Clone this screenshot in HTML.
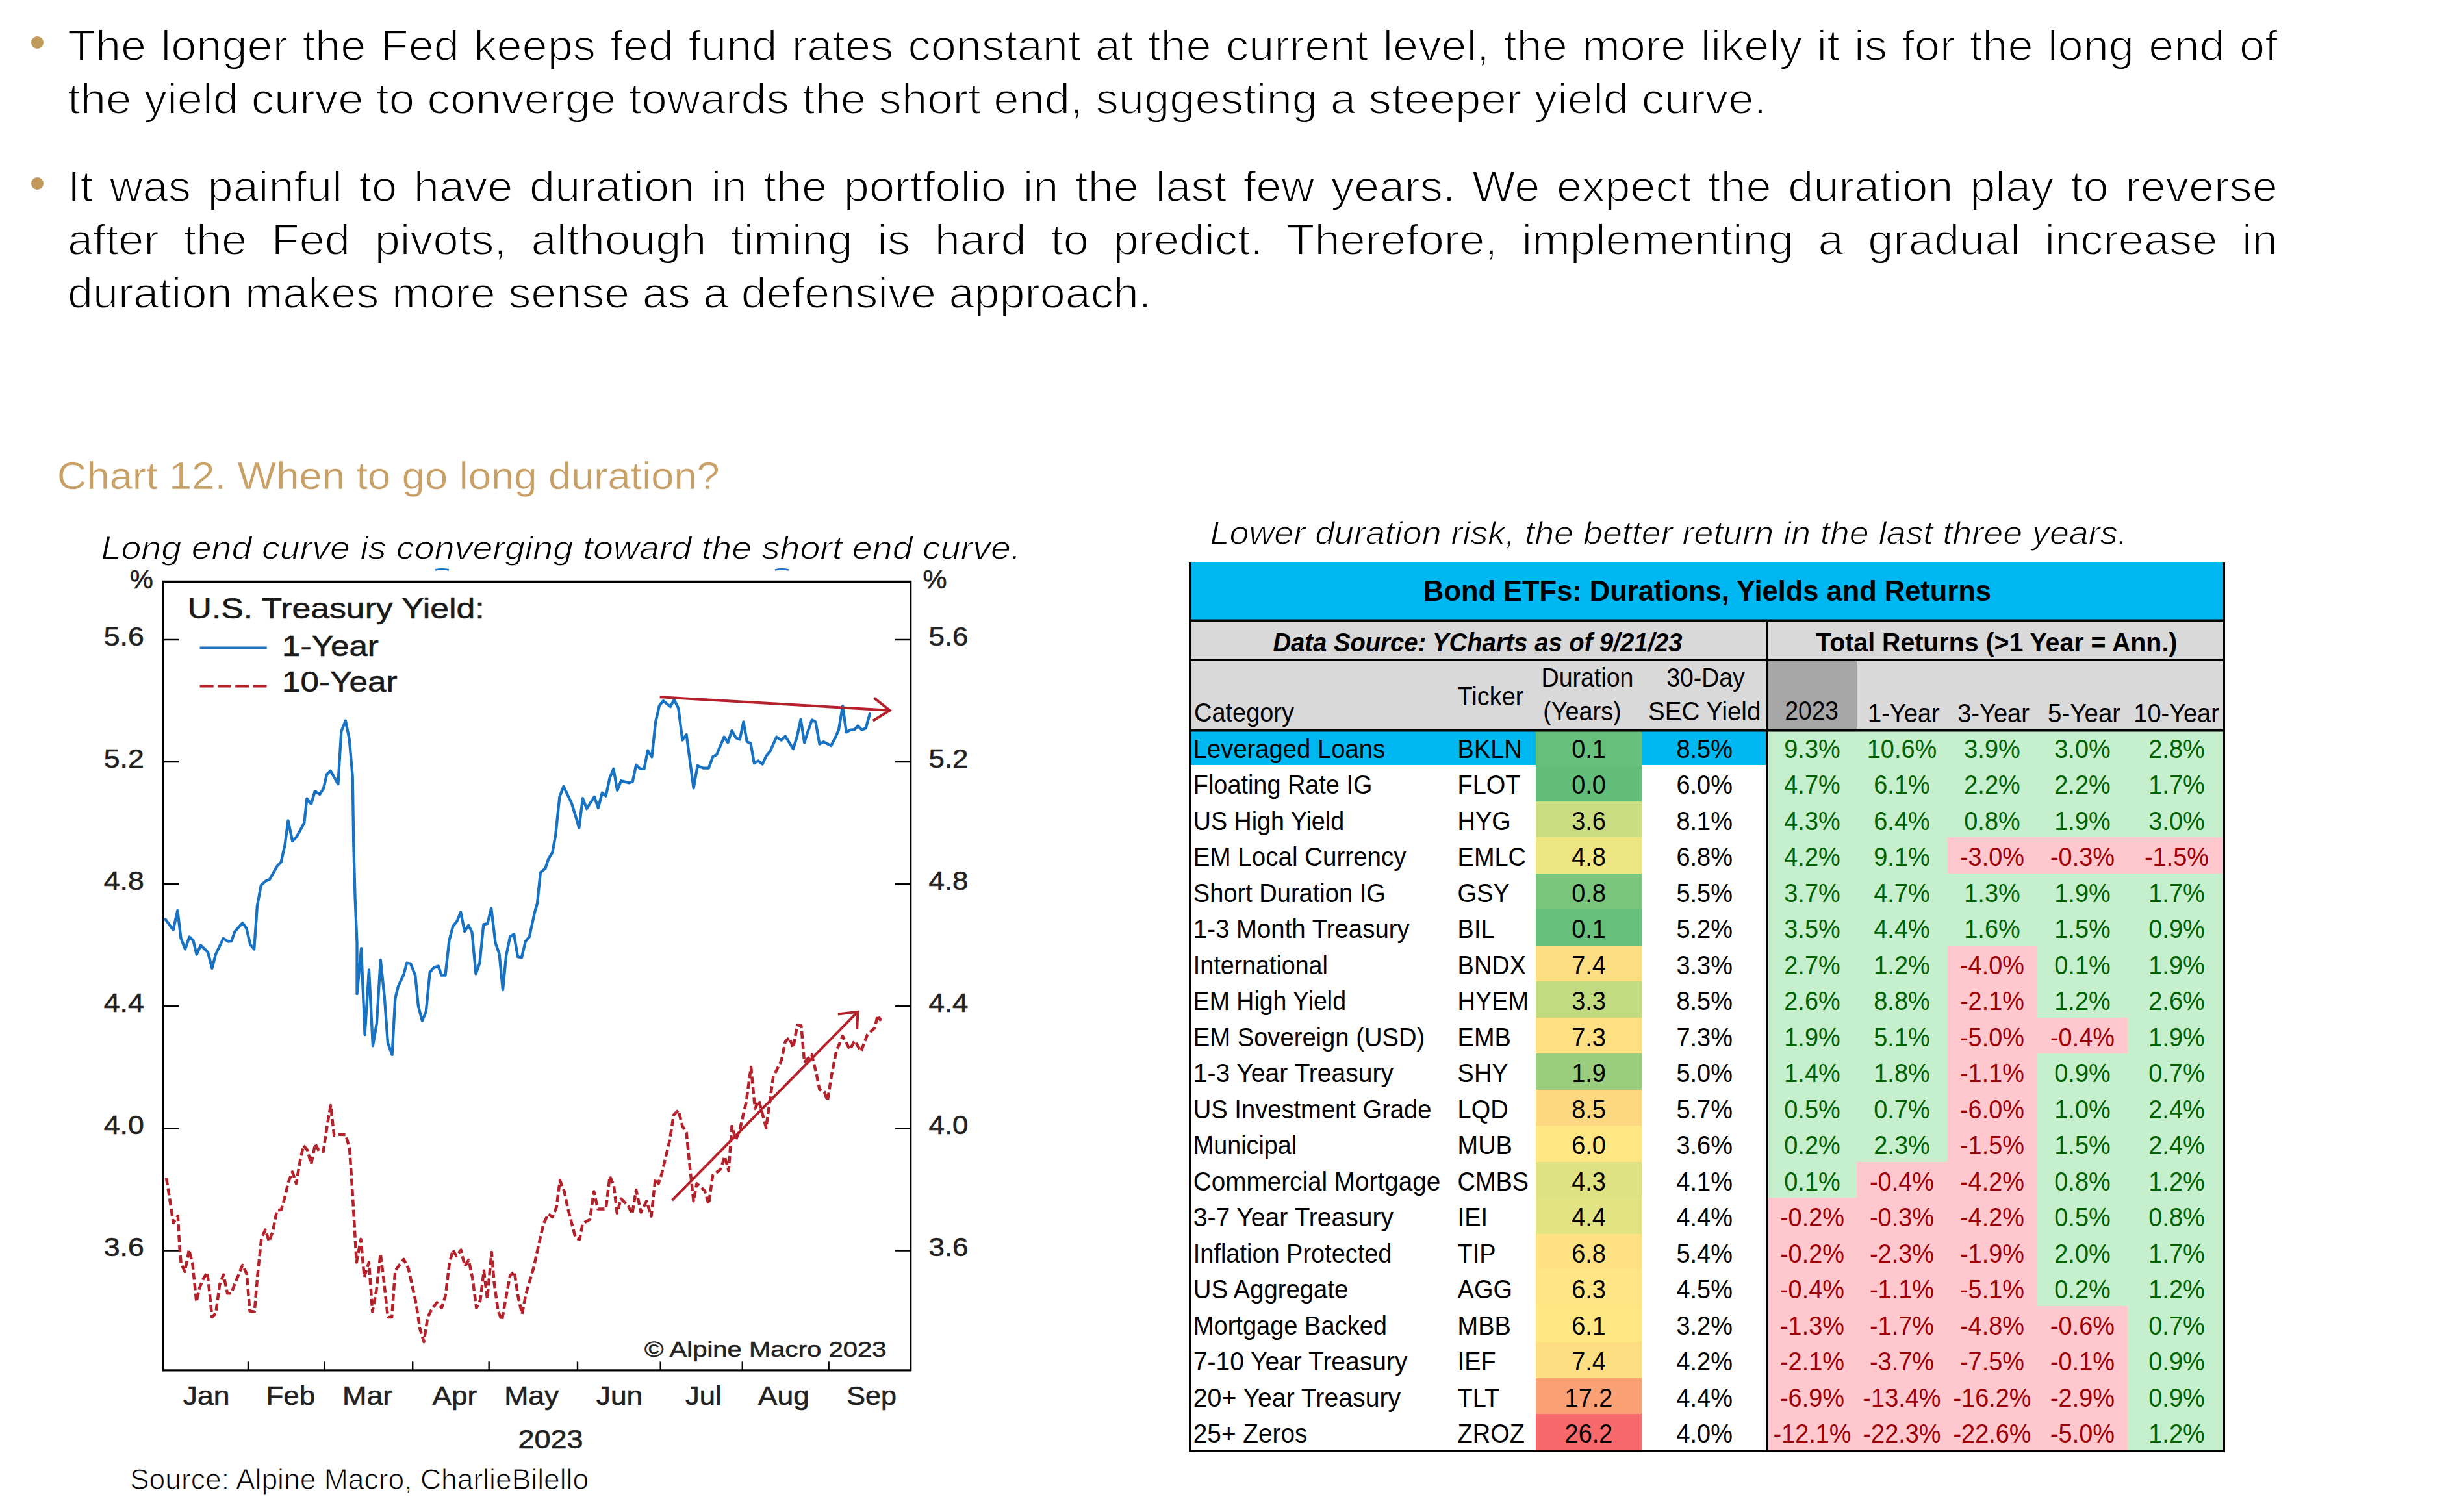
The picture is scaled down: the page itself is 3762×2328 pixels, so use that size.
<!DOCTYPE html>
<html lang="en"><head><meta charset="utf-8"><title>Chart 12. When to go long duration?</title><style>
html,body{margin:0;padding:0;background:#fff;}
body{width:3762px;height:2328px;position:relative;overflow:hidden;font-family:"Liberation Sans",sans-serif;color:#000;}
.pl{position:absolute;left:104.2px;width:3181.0px;font-size:67px;line-height:67px;height:67px;white-space:nowrap;transform:scaleX(1.0694);transform-origin:0 0;text-align:left;-webkit-text-stroke:1.8px #fff;}
.pl.j{text-align:justify;text-align-last:justify;}
.bul{position:absolute;width:19px;height:19px;border-radius:50%;background:#C19A5B;}
svg{position:absolute;left:0;top:0;}
svg text{font-family:"Liberation Sans",sans-serif;}
</style></head><body>
<div class="bul" style="left:47.5px;top:56px"></div>
<div class="bul" style="left:47.5px;top:273px"></div>
<div class="pl j" style="top:36.0px;width:3240.7px;transform:scaleX(1.0497)">The longer the Fed keeps fed fund rates constant at the current level, the more likely it is for the long end of</div>
<div class="pl" style="top:118.0px;width:3226.6px;transform:scaleX(1.0543)">the yield curve to converge towards the short end, suggesting a steeper yield curve.</div>
<div class="pl j" style="top:252.6px;width:3240.7px;transform:scaleX(1.0497)">It was painful to have duration in the portfolio in the last few years. We expect the duration play to reverse</div>
<div class="pl j" style="top:334.7px;width:3240.7px;transform:scaleX(1.0497)">after the Fed pivots, although timing is hard to predict. Therefore, implementing a gradual increase in</div>
<div class="pl" style="top:416.8px;width:3250.3px;transform:scaleX(1.0466)">duration makes more sense as a defensive approach.</div>
<svg width="3762" height="2328" viewBox="0 0 3762 2328">
<text x="87.8" y="753.3" font-size="60" fill="#C8A065" textLength="1020.0" lengthAdjust="spacingAndGlyphs" stroke="#fff" stroke-width="0.5">Chart 12. When to go long duration?</text>
<text x="155.5" y="860.6" font-size="50" fill="#000" font-style="italic" textLength="1416.0" lengthAdjust="spacingAndGlyphs" stroke="#fff" stroke-width="1.1">Long end curve is converging toward the short end curve.</text>
<text x="1862.6" y="837.6" font-size="50" fill="#000" font-style="italic" textLength="1412.0" lengthAdjust="spacingAndGlyphs" stroke="#fff" stroke-width="1.1">Lower duration risk, the better return in the last three years.</text>
<text x="199.9" y="2293.4" font-size="44" fill="#000" textLength="706.3" lengthAdjust="spacingAndGlyphs" stroke="#fff" stroke-width="0.9">Source: Alpine Macro, CharlieBilello</text>
<rect x="251.4" y="895.4" width="1150.3" height="1214.5" fill="none" stroke="#000" stroke-width="3.2"/>
<path d="M251.4 985.0h24 M1401.7 985.0h-24" stroke="#000" stroke-width="2.4" fill="none"/>
<text x="159.8" y="993.6" font-size="40.5" fill="#222" textLength="62.0" lengthAdjust="spacingAndGlyphs" stroke="#222" stroke-width="0.6">5.6</text>
<text x="1429.5" y="993.6" font-size="40.5" fill="#222" textLength="61.0" lengthAdjust="spacingAndGlyphs" stroke="#222" stroke-width="0.6">5.6</text>
<path d="M251.4 1173.1h24 M1401.7 1173.1h-24" stroke="#000" stroke-width="2.4" fill="none"/>
<text x="159.8" y="1181.7" font-size="40.5" fill="#222" textLength="62.0" lengthAdjust="spacingAndGlyphs" stroke="#222" stroke-width="0.6">5.2</text>
<text x="1429.5" y="1181.7" font-size="40.5" fill="#222" textLength="61.0" lengthAdjust="spacingAndGlyphs" stroke="#222" stroke-width="0.6">5.2</text>
<path d="M251.4 1361.2h24 M1401.7 1361.2h-24" stroke="#000" stroke-width="2.4" fill="none"/>
<text x="159.8" y="1369.8" font-size="40.5" fill="#222" textLength="62.0" lengthAdjust="spacingAndGlyphs" stroke="#222" stroke-width="0.6">4.8</text>
<text x="1429.5" y="1369.8" font-size="40.5" fill="#222" textLength="61.0" lengthAdjust="spacingAndGlyphs" stroke="#222" stroke-width="0.6">4.8</text>
<path d="M251.4 1549.3h24 M1401.7 1549.3h-24" stroke="#000" stroke-width="2.4" fill="none"/>
<text x="159.8" y="1557.9" font-size="40.5" fill="#222" textLength="62.0" lengthAdjust="spacingAndGlyphs" stroke="#222" stroke-width="0.6">4.4</text>
<text x="1429.5" y="1557.9" font-size="40.5" fill="#222" textLength="61.0" lengthAdjust="spacingAndGlyphs" stroke="#222" stroke-width="0.6">4.4</text>
<path d="M251.4 1737.4h24 M1401.7 1737.4h-24" stroke="#000" stroke-width="2.4" fill="none"/>
<text x="159.8" y="1746.0" font-size="40.5" fill="#222" textLength="62.0" lengthAdjust="spacingAndGlyphs" stroke="#222" stroke-width="0.6">4.0</text>
<text x="1429.5" y="1746.0" font-size="40.5" fill="#222" textLength="61.0" lengthAdjust="spacingAndGlyphs" stroke="#222" stroke-width="0.6">4.0</text>
<path d="M251.4 1925.5h24 M1401.7 1925.5h-24" stroke="#000" stroke-width="2.4" fill="none"/>
<text x="159.8" y="1934.1" font-size="40.5" fill="#222" textLength="62.0" lengthAdjust="spacingAndGlyphs" stroke="#222" stroke-width="0.6">3.6</text>
<text x="1429.5" y="1934.1" font-size="40.5" fill="#222" textLength="61.0" lengthAdjust="spacingAndGlyphs" stroke="#222" stroke-width="0.6">3.6</text>
<text x="199.8" y="906.0" font-size="40" fill="#222" textLength="36.0" lengthAdjust="spacingAndGlyphs" stroke="#222" stroke-width="0.6">%</text>
<text x="1420.5" y="906.0" font-size="40" fill="#222" textLength="37.0" lengthAdjust="spacingAndGlyphs" stroke="#222" stroke-width="0.6">%</text>
<path d="M382.0 2109.9v-13.5" stroke="#000" stroke-width="2.4" fill="none"/>
<path d="M499.5 2109.9v-13.5" stroke="#000" stroke-width="2.4" fill="none"/>
<path d="M635.2 2109.9v-13.5" stroke="#000" stroke-width="2.4" fill="none"/>
<path d="M752.7 2109.9v-13.5" stroke="#000" stroke-width="2.4" fill="none"/>
<path d="M889.0 2109.9v-13.5" stroke="#000" stroke-width="2.4" fill="none"/>
<path d="M1016.7 2109.9v-13.5" stroke="#000" stroke-width="2.4" fill="none"/>
<path d="M1142.8 2109.9v-13.5" stroke="#000" stroke-width="2.4" fill="none"/>
<path d="M1275.7 2109.9v-13.5" stroke="#000" stroke-width="2.4" fill="none"/>
<text x="281.8" y="2162.8" font-size="40" fill="#222" textLength="71.6" lengthAdjust="spacingAndGlyphs" stroke="#222" stroke-width="0.6">Jan</text>
<text x="409.5" y="2162.8" font-size="40" fill="#222" textLength="75.7" lengthAdjust="spacingAndGlyphs" stroke="#222" stroke-width="0.6">Feb</text>
<text x="527.0" y="2162.8" font-size="40" fill="#222" textLength="77.3" lengthAdjust="spacingAndGlyphs" stroke="#222" stroke-width="0.6">Mar</text>
<text x="665.6" y="2162.8" font-size="40" fill="#222" textLength="68.7" lengthAdjust="spacingAndGlyphs" stroke="#222" stroke-width="0.6">Apr</text>
<text x="776.2" y="2162.8" font-size="40" fill="#222" textLength="84.2" lengthAdjust="spacingAndGlyphs" stroke="#222" stroke-width="0.6">May</text>
<text x="917.7" y="2162.8" font-size="40" fill="#222" textLength="71.6" lengthAdjust="spacingAndGlyphs" stroke="#222" stroke-width="0.6">Jun</text>
<text x="1055.1" y="2162.8" font-size="40" fill="#222" textLength="55.6" lengthAdjust="spacingAndGlyphs" stroke="#222" stroke-width="0.6">Jul</text>
<text x="1166.8" y="2162.8" font-size="40" fill="#222" textLength="79.1" lengthAdjust="spacingAndGlyphs" stroke="#222" stroke-width="0.6">Aug</text>
<text x="1303.2" y="2162.8" font-size="40" fill="#222" textLength="76.7" lengthAdjust="spacingAndGlyphs" stroke="#222" stroke-width="0.6">Sep</text>
<text x="797.4" y="2230.4" font-size="40" fill="#222" textLength="100.2" lengthAdjust="spacingAndGlyphs" stroke="#222" stroke-width="0.6">2023</text>
<text x="992.1" y="2088.9" font-size="34" fill="#222" textLength="372.4" lengthAdjust="spacingAndGlyphs" stroke="#222" stroke-width="0.6">© Alpine Macro 2023</text>
<text x="288.6" y="951.7" font-size="44" fill="#1a1a1a" textLength="457.0" lengthAdjust="spacingAndGlyphs" stroke="#1a1a1a" stroke-width="0.6">U.S. Treasury Yield:</text>
<text x="434.0" y="1010.0" font-size="44" fill="#1a1a1a" textLength="148.9" lengthAdjust="spacingAndGlyphs" stroke="#1a1a1a" stroke-width="0.6">1-Year</text>
<text x="434.0" y="1065.0" font-size="44" fill="#1a1a1a" textLength="177.5" lengthAdjust="spacingAndGlyphs" stroke="#1a1a1a" stroke-width="0.6">10-Year</text>
<path d="M307.6 997.5H410.7" stroke="#1872C3" stroke-width="4.2" fill="none"/>
<path d="M307.6 1056.5H410.7" stroke="#B5212B" stroke-width="4.2" stroke-dasharray="21 6.3" fill="none"/>
<path d="M254.7 1415.6 L266.6 1431.7 L273.3 1402.0 L278.5 1444.8 L285.1 1461.4 L291.5 1442.4 L297.5 1448.3 L302.7 1469.7 L308.9 1455.4 L320.0 1466.1 L326.4 1491.0 L331.9 1469.7 L343.7 1444.8 L350.9 1449.5 L356.3 1449.0 L361.5 1434.1 L373.4 1421.0 L379.3 1429.3 L385.3 1454.3 L391.2 1461.4 L395.9 1394.9 L401.9 1362.9 L409.0 1356.5 L414.9 1354.1 L426.8 1333.2 L432.7 1327.3 L438.7 1300.0 L443.5 1263.5 L450.1 1295.0 L456.7 1288.3 L468.3 1266.9 L472.4 1229.6 L479.0 1237.9 L484.8 1218.1 L492.2 1223.0 L498.0 1213.9 L503.0 1192.4 L508.8 1186.7 L520.4 1207.3 L525.3 1126.3 L531.9 1109.8 L537.7 1137.9 L542.7 1195.7 L544.3 1300.0 L546.6 1383.0 L549.5 1451.9 L549.5 1530.2 L556.1 1460.2 L561.6 1593.1 L568.0 1493.4 L573.9 1610.4 L579.9 1575.3 L585.8 1478.0 L591.7 1533.8 L597.0 1606.1 L603.6 1623.9 L608.3 1537.3 L613.1 1518.3 L621.4 1500.5 L626.1 1482.7 L632.1 1483.9 L639.2 1501.7 L643.9 1549.2 L649.9 1571.7 L655.8 1557.5 L661.7 1497.0 L667.7 1489.9 L674.8 1487.5 L679.5 1501.7 L685.5 1501.7 L691.4 1448.3 L697.3 1425.8 L703.3 1418.7 L709.2 1404.4 L715.1 1434.1 L721.1 1424.6 L726.5 1435.3 L732.5 1499.3 L738.4 1482.7 L744.3 1423.4 L750.3 1422.2 L756.2 1398.5 L762.6 1451.9 L768.5 1468.5 L774.0 1524.3 L779.2 1470.9 L785.1 1442.4 L791.1 1438.4 L797.0 1473.2 L802.9 1474.4 L808.9 1449.5 L814.8 1442.4 L823.1 1404.4 L827.0 1391.2 L831.9 1343.4 L839.3 1337.2 L844.2 1322.5 L850.3 1312.7 L855.2 1285.7 L861.4 1226.8 L867.5 1210.8 L879.8 1236.6 L885.9 1256.2 L891.3 1274.6 L897.0 1229.2 L903.1 1245.2 L914.9 1226.8 L920.8 1244.0 L926.9 1220.6 L932.6 1225.5 L938.7 1197.3 L944.4 1183.8 L950.2 1216.9 L955.9 1202.2 L968.2 1205.4 L973.8 1203.4 L979.2 1177.7 L985.4 1183.8 L991.5 1183.8 L997.1 1155.6 L1003.3 1165.4 L1009.2 1111.4 L1014.8 1086.8 L1020.9 1079.0 L1032.0 1088.1 L1037.6 1077.5 L1044.3 1090.5 L1050.4 1139.6 L1056.6 1131.0 L1067.6 1213.3 L1073.7 1178.9 L1082.3 1182.6 L1090.9 1182.6 L1097.1 1165.4 L1103.2 1161.7 L1108.8 1148.2 L1114.7 1134.7 L1120.4 1143.3 L1126.5 1124.9 L1132.7 1135.9 L1138.8 1138.4 L1144.4 1111.4 L1149.8 1142.1 L1155.5 1144.5 L1160.9 1175.2 L1167.0 1171.5 L1173.7 1176.4 L1179.3 1164.2 L1185.4 1156.8 L1195.3 1134.7 L1202.6 1139.6 L1208.8 1133.5 L1214.9 1143.3 L1221.0 1153.1 L1226.7 1134.7 L1232.6 1107.7 L1238.2 1143.3 L1244.4 1123.7 L1249.8 1108.4 L1255.4 1111.4 L1261.5 1145.7 L1267.7 1142.1 L1279.2 1148.2 L1285.6 1135.9 L1291.0 1123.7 L1297.1 1086.8 L1302.8 1127.3 L1309.4 1123.7 L1315.5 1123.2 L1320.5 1117.5 L1326.6 1123.7 L1332.7 1121.2 L1338.9 1099.1" stroke="#1872C3" stroke-width="4.3" fill="none" stroke-linejoin="round" stroke-linecap="round"/>
<path d="M256.0 1813.8 L260.7 1842.4 L266.7 1882.9 L273.8 1872.1 L276.2 1916.2 L278.6 1944.8 L284.5 1957.9 L291.0 1924.5 L296.4 1946.0 L302.4 2004.3 L307.1 1982.9 L312.4 1969.8 L319.0 1959.0 L322.6 1990.0 L326.2 2028.1 L332.1 2022.1 L338.1 1978.1 L344.0 1962.6 L350.0 1991.2 L356.0 1991.2 L361.9 1975.7 L373.3 1947.9 L379.8 1961.4 L384.5 2018.6 L391.7 2019.8 L396.4 1963.8 L402.4 1906.7 L408.3 1893.6 L414.3 1911.4 L420.2 1894.8 L426.2 1863.8 L432.9 1862.6 L438.1 1844.8 L444.0 1819.8 L450.0 1804.3 L456.0 1822.1 L461.9 1787.6 L467.1 1763.8 L473.3 1771.0 L479.0 1792.4 L485.2 1761.4 L491.7 1773.3 L497.6 1773.3 L503.6 1732.9 L509.0 1701.9 L514.3 1748.3 L521.4 1746.7 L532.1 1747.1 L538.1 1768.6 L541.7 1823.3 L545.2 1880.5 L548.8 1943.6 L555.5 1907.9 L560.7 1966.2 L567.9 1943.6 L573.3 2019.8 L579.3 1987.6 L585.7 1930.5 L591.0 1973.3 L597.1 2028.1 L603.1 2028.1 L608.3 1956.7 L614.3 1948.3 L621.4 1938.8 L628.6 1953.1 L640.5 2006.7 L646.4 2046.0 L652.5 2066.0 L658.3 2028.1 L664.3 2016.2 L672.6 2005.5 L679.8 2013.8 L685.7 1994.8 L691.7 1946.0 L697.1 1924.5 L702.4 1934.0 L709.5 1924.5 L715.5 1949.5 L721.4 1940.0 L727.4 1968.6 L733.3 2013.8 L739.3 2001.9 L744.8 1956.7 L750.0 1999.5 L756.7 1928.1 L760.7 1975.7 L766.7 2018.6 L772.6 2032.9 L779.8 1992.4 L785.2 1963.8 L791.7 1957.9 L797.6 1997.1 L803.6 2023.3 L809.5 1992.4 L821.4 1951.9 L830.7 1910.0 L836.8 1883.7 L844.2 1869.0 L850.3 1873.9 L856.5 1859.2 L861.9 1817.4 L868.7 1834.6 L873.7 1859.2 L885.9 1905.8 L892.1 1908.3 L897.0 1883.7 L908.0 1877.6 L914.2 1834.6 L920.3 1861.6 L932.6 1861.6 L938.7 1811.3 L944.8 1824.8 L949.8 1867.7 L955.9 1845.7 L966.9 1856.7 L973.1 1869.0 L979.2 1832.1 L986.6 1866.5 L995.2 1849.3 L1002.5 1872.7 L1008.7 1815.0 L1013.6 1822.3 L1018.5 1807.6 L1030.8 1756.0 L1036.9 1716.8 L1044.3 1709.4 L1050.4 1733.9 L1056.6 1743.8 L1061.5 1792.9 L1067.6 1849.3 L1072.5 1822.3 L1084.8 1833.4 L1090.9 1854.2 L1097.0 1810.0 L1109.3 1800.2 L1115.5 1780.6 L1121.6 1802.7 L1126.5 1733.9 L1132.7 1754.8 L1138.8 1738.9 L1148.6 1697.1 L1156.0 1643.1 L1162.1 1706.9 L1168.2 1694.7 L1179.3 1736.4 L1185.4 1692.2 L1190.3 1657.8 L1202.6 1633.3 L1208.8 1603.8 L1214.9 1597.7 L1221.0 1613.6 L1227.2 1578.0 L1233.3 1579.3 L1238.2 1635.7 L1249.3 1623.5 L1256.6 1652.9 L1261.5 1677.5 L1268.9 1681.2 L1273.8 1694.7 L1280.0 1655.4 L1287.3 1618.6 L1297.1 1595.2 L1308.2 1616.1 L1315.5 1602.6 L1325.4 1618.6 L1335.2 1592.8 L1346.2 1583.0 L1351.2 1563.3 L1356.1 1571.9" stroke="#B5212B" stroke-width="4.5" fill="none" stroke-linejoin="round" stroke-dasharray="11 5"/>
<path d="M670 877.5Q680 875 691 877.5M1193 877.5Q1203 875 1214 877.5" stroke="#1872C3" stroke-width="2.6" fill="none"/>
<path d="M1015.6 1073.3L1369.6 1093.7M1345.5 1074.6L1369.6 1093.7L1343.8 1109.7" stroke="#B5212B" stroke-width="4" fill="none" stroke-linejoin="miter"/>
<path d="M1034.5 1848.1L1320.5 1557.7M1289.8 1561.6L1320.5 1557.7L1319.2 1584.2" stroke="#B5212B" stroke-width="4" fill="none" stroke-linejoin="miter"/>
<rect x="1833.0" y="866.0" width="1589.0" height="89.0" fill="#00B8F1"/>
<rect x="1833.0" y="955.0" width="1589.0" height="170.0" fill="#D9D9D9"/>
<rect x="2721.0" y="1016.0" width="137.0" height="109.0" fill="#A6A6A6"/>
<rect x="1833.0" y="1125.0" width="887.0" height="53.0" fill="#00B8F1"/>
<rect x="2720.0" y="1125.0" width="702.0" height="1109.0" fill="#C6EFCE"/>
<rect x="2721.0" y="1844.0" width="137.0" height="390.0" fill="#FFC7CE"/>
<rect x="2858.0" y="1789.0" width="139.0" height="445.0" fill="#FFC7CE"/>
<rect x="2997.0" y="1289.0" width="139.0" height="56.0" fill="#FFC7CE"/>
<rect x="2997.0" y="1456.0" width="139.0" height="778.0" fill="#FFC7CE"/>
<rect x="3136.0" y="1289.0" width="139.0" height="56.0" fill="#FFC7CE"/>
<rect x="3136.0" y="1567.0" width="139.0" height="55.0" fill="#FFC7CE"/>
<rect x="3136.0" y="2011.0" width="139.0" height="223.0" fill="#FFC7CE"/>
<rect x="3275.0" y="1289.0" width="147.0" height="56.0" fill="#FFC7CE"/>
<rect x="2364.0" y="1125.0" width="163.0" height="53.0" fill="#66BF7B"/>
<rect x="2364.0" y="1178.0" width="163.0" height="56.0" fill="#63BE7B"/>
<rect x="2364.0" y="1234.0" width="163.0" height="55.0" fill="#CBDC81"/>
<rect x="2364.0" y="1289.0" width="163.0" height="56.0" fill="#EEE683"/>
<rect x="2364.0" y="1345.0" width="163.0" height="55.0" fill="#7AC57C"/>
<rect x="2364.0" y="1400.0" width="163.0" height="56.0" fill="#66BF7B"/>
<rect x="2364.0" y="1456.0" width="163.0" height="55.0" fill="#FEDE82"/>
<rect x="2364.0" y="1511.0" width="163.0" height="56.0" fill="#C2DA80"/>
<rect x="2364.0" y="1567.0" width="163.0" height="55.0" fill="#FEDF82"/>
<rect x="2364.0" y="1622.0" width="163.0" height="56.0" fill="#9ACE7E"/>
<rect x="2364.0" y="1678.0" width="163.0" height="55.0" fill="#FED880"/>
<rect x="2364.0" y="1733.0" width="163.0" height="56.0" fill="#FFE783"/>
<rect x="2364.0" y="1789.0" width="163.0" height="55.0" fill="#DFE282"/>
<rect x="2364.0" y="1844.0" width="163.0" height="56.0" fill="#E2E382"/>
<rect x="2364.0" y="1900.0" width="163.0" height="55.0" fill="#FFE282"/>
<rect x="2364.0" y="1955.0" width="163.0" height="56.0" fill="#FFE583"/>
<rect x="2364.0" y="2011.0" width="163.0" height="55.0" fill="#FFE783"/>
<rect x="2364.0" y="2066.0" width="163.0" height="56.0" fill="#FEDE82"/>
<rect x="2364.0" y="2122.0" width="163.0" height="55.0" fill="#FBA176"/>
<rect x="2364.0" y="2177.0" width="163.0" height="57.0" fill="#F8696B"/>
<text x="1836.8" y="1166.7" font-size="41" fill="#000" textLength="295.2" lengthAdjust="spacingAndGlyphs">Leveraged Loans</text>
<text transform="translate(2243.6 1166.7) scale(0.925 1)" font-size="41" fill="#000">BKLN</text>
<text transform="translate(2445.5 1166.7) scale(0.925 1)" font-size="41" fill="#000" text-anchor="middle">0.1</text>
<text transform="translate(2623.7 1166.7) scale(0.925 1)" font-size="41" fill="#000" text-anchor="middle">8.5%</text>
<text transform="translate(2789.5 1166.7) scale(0.925 1)" font-size="41" fill="#006100" text-anchor="middle">9.3%</text>
<text transform="translate(2927.5 1166.7) scale(0.925 1)" font-size="41" fill="#006100" text-anchor="middle">10.6%</text>
<text transform="translate(3066.5 1166.7) scale(0.925 1)" font-size="41" fill="#006100" text-anchor="middle">3.9%</text>
<text transform="translate(3205.5 1166.7) scale(0.925 1)" font-size="41" fill="#006100" text-anchor="middle">3.0%</text>
<text transform="translate(3350.5 1166.7) scale(0.925 1)" font-size="41" fill="#006100" text-anchor="middle">2.8%</text>
<text x="1836.8" y="1222.2" font-size="41" fill="#000" textLength="275.6" lengthAdjust="spacingAndGlyphs">Floating Rate IG</text>
<text transform="translate(2243.6 1222.2) scale(0.925 1)" font-size="41" fill="#000">FLOT</text>
<text transform="translate(2445.5 1222.2) scale(0.925 1)" font-size="41" fill="#000" text-anchor="middle">0.0</text>
<text transform="translate(2623.7 1222.2) scale(0.925 1)" font-size="41" fill="#000" text-anchor="middle">6.0%</text>
<text transform="translate(2789.5 1222.2) scale(0.925 1)" font-size="41" fill="#006100" text-anchor="middle">4.7%</text>
<text transform="translate(2927.5 1222.2) scale(0.925 1)" font-size="41" fill="#006100" text-anchor="middle">6.1%</text>
<text transform="translate(3066.5 1222.2) scale(0.925 1)" font-size="41" fill="#006100" text-anchor="middle">2.2%</text>
<text transform="translate(3205.5 1222.2) scale(0.925 1)" font-size="41" fill="#006100" text-anchor="middle">2.2%</text>
<text transform="translate(3350.5 1222.2) scale(0.925 1)" font-size="41" fill="#006100" text-anchor="middle">1.7%</text>
<text x="1836.8" y="1277.7" font-size="41" fill="#000" textLength="232.3" lengthAdjust="spacingAndGlyphs">US High Yield</text>
<text transform="translate(2243.6 1277.7) scale(0.925 1)" font-size="41" fill="#000">HYG</text>
<text transform="translate(2445.5 1277.7) scale(0.925 1)" font-size="41" fill="#000" text-anchor="middle">3.6</text>
<text transform="translate(2623.7 1277.7) scale(0.925 1)" font-size="41" fill="#000" text-anchor="middle">8.1%</text>
<text transform="translate(2789.5 1277.7) scale(0.925 1)" font-size="41" fill="#006100" text-anchor="middle">4.3%</text>
<text transform="translate(2927.5 1277.7) scale(0.925 1)" font-size="41" fill="#006100" text-anchor="middle">6.4%</text>
<text transform="translate(3066.5 1277.7) scale(0.925 1)" font-size="41" fill="#006100" text-anchor="middle">0.8%</text>
<text transform="translate(3205.5 1277.7) scale(0.925 1)" font-size="41" fill="#006100" text-anchor="middle">1.9%</text>
<text transform="translate(3350.5 1277.7) scale(0.925 1)" font-size="41" fill="#006100" text-anchor="middle">3.0%</text>
<text x="1836.8" y="1333.2" font-size="41" fill="#000" textLength="327.8" lengthAdjust="spacingAndGlyphs">EM Local Currency</text>
<text transform="translate(2243.6 1333.2) scale(0.925 1)" font-size="41" fill="#000">EMLC</text>
<text transform="translate(2445.5 1333.2) scale(0.925 1)" font-size="41" fill="#000" text-anchor="middle">4.8</text>
<text transform="translate(2623.7 1333.2) scale(0.925 1)" font-size="41" fill="#000" text-anchor="middle">6.8%</text>
<text transform="translate(2789.5 1333.2) scale(0.925 1)" font-size="41" fill="#006100" text-anchor="middle">4.2%</text>
<text transform="translate(2927.5 1333.2) scale(0.925 1)" font-size="41" fill="#006100" text-anchor="middle">9.1%</text>
<text transform="translate(3066.5 1333.2) scale(0.925 1)" font-size="41" fill="#9C0006" text-anchor="middle">-3.0%</text>
<text transform="translate(3205.5 1333.2) scale(0.925 1)" font-size="41" fill="#9C0006" text-anchor="middle">-0.3%</text>
<text transform="translate(3350.5 1333.2) scale(0.925 1)" font-size="41" fill="#9C0006" text-anchor="middle">-1.5%</text>
<text x="1836.8" y="1388.7" font-size="41" fill="#000" textLength="296.0" lengthAdjust="spacingAndGlyphs">Short Duration IG</text>
<text transform="translate(2243.6 1388.7) scale(0.925 1)" font-size="41" fill="#000">GSY</text>
<text transform="translate(2445.5 1388.7) scale(0.925 1)" font-size="41" fill="#000" text-anchor="middle">0.8</text>
<text transform="translate(2623.7 1388.7) scale(0.925 1)" font-size="41" fill="#000" text-anchor="middle">5.5%</text>
<text transform="translate(2789.5 1388.7) scale(0.925 1)" font-size="41" fill="#006100" text-anchor="middle">3.7%</text>
<text transform="translate(2927.5 1388.7) scale(0.925 1)" font-size="41" fill="#006100" text-anchor="middle">4.7%</text>
<text transform="translate(3066.5 1388.7) scale(0.925 1)" font-size="41" fill="#006100" text-anchor="middle">1.3%</text>
<text transform="translate(3205.5 1388.7) scale(0.925 1)" font-size="41" fill="#006100" text-anchor="middle">1.9%</text>
<text transform="translate(3350.5 1388.7) scale(0.925 1)" font-size="41" fill="#006100" text-anchor="middle">1.7%</text>
<text x="1836.8" y="1444.2" font-size="41" fill="#000" textLength="333.0" lengthAdjust="spacingAndGlyphs">1-3 Month Treasury</text>
<text transform="translate(2243.6 1444.2) scale(0.925 1)" font-size="41" fill="#000">BIL</text>
<text transform="translate(2445.5 1444.2) scale(0.925 1)" font-size="41" fill="#000" text-anchor="middle">0.1</text>
<text transform="translate(2623.7 1444.2) scale(0.925 1)" font-size="41" fill="#000" text-anchor="middle">5.2%</text>
<text transform="translate(2789.5 1444.2) scale(0.925 1)" font-size="41" fill="#006100" text-anchor="middle">3.5%</text>
<text transform="translate(2927.5 1444.2) scale(0.925 1)" font-size="41" fill="#006100" text-anchor="middle">4.4%</text>
<text transform="translate(3066.5 1444.2) scale(0.925 1)" font-size="41" fill="#006100" text-anchor="middle">1.6%</text>
<text transform="translate(3205.5 1444.2) scale(0.925 1)" font-size="41" fill="#006100" text-anchor="middle">1.5%</text>
<text transform="translate(3350.5 1444.2) scale(0.925 1)" font-size="41" fill="#006100" text-anchor="middle">0.9%</text>
<text x="1836.8" y="1499.7" font-size="41" fill="#000" textLength="207.1" lengthAdjust="spacingAndGlyphs">International</text>
<text transform="translate(2243.6 1499.7) scale(0.925 1)" font-size="41" fill="#000">BNDX</text>
<text transform="translate(2445.5 1499.7) scale(0.925 1)" font-size="41" fill="#000" text-anchor="middle">7.4</text>
<text transform="translate(2623.7 1499.7) scale(0.925 1)" font-size="41" fill="#000" text-anchor="middle">3.3%</text>
<text transform="translate(2789.5 1499.7) scale(0.925 1)" font-size="41" fill="#006100" text-anchor="middle">2.7%</text>
<text transform="translate(2927.5 1499.7) scale(0.925 1)" font-size="41" fill="#006100" text-anchor="middle">1.2%</text>
<text transform="translate(3066.5 1499.7) scale(0.925 1)" font-size="41" fill="#9C0006" text-anchor="middle">-4.0%</text>
<text transform="translate(3205.5 1499.7) scale(0.925 1)" font-size="41" fill="#006100" text-anchor="middle">0.1%</text>
<text transform="translate(3350.5 1499.7) scale(0.925 1)" font-size="41" fill="#006100" text-anchor="middle">1.9%</text>
<text x="1836.8" y="1555.2" font-size="41" fill="#000" textLength="235.2" lengthAdjust="spacingAndGlyphs">EM High Yield</text>
<text transform="translate(2243.6 1555.2) scale(0.925 1)" font-size="41" fill="#000">HYEM</text>
<text transform="translate(2445.5 1555.2) scale(0.925 1)" font-size="41" fill="#000" text-anchor="middle">3.3</text>
<text transform="translate(2623.7 1555.2) scale(0.925 1)" font-size="41" fill="#000" text-anchor="middle">8.5%</text>
<text transform="translate(2789.5 1555.2) scale(0.925 1)" font-size="41" fill="#006100" text-anchor="middle">2.6%</text>
<text transform="translate(2927.5 1555.2) scale(0.925 1)" font-size="41" fill="#006100" text-anchor="middle">8.8%</text>
<text transform="translate(3066.5 1555.2) scale(0.925 1)" font-size="41" fill="#9C0006" text-anchor="middle">-2.1%</text>
<text transform="translate(3205.5 1555.2) scale(0.925 1)" font-size="41" fill="#006100" text-anchor="middle">1.2%</text>
<text transform="translate(3350.5 1555.2) scale(0.925 1)" font-size="41" fill="#006100" text-anchor="middle">2.6%</text>
<text x="1836.8" y="1610.7" font-size="41" fill="#000" textLength="356.4" lengthAdjust="spacingAndGlyphs">EM Sovereign (USD)</text>
<text transform="translate(2243.6 1610.7) scale(0.925 1)" font-size="41" fill="#000">EMB</text>
<text transform="translate(2445.5 1610.7) scale(0.925 1)" font-size="41" fill="#000" text-anchor="middle">7.3</text>
<text transform="translate(2623.7 1610.7) scale(0.925 1)" font-size="41" fill="#000" text-anchor="middle">7.3%</text>
<text transform="translate(2789.5 1610.7) scale(0.925 1)" font-size="41" fill="#006100" text-anchor="middle">1.9%</text>
<text transform="translate(2927.5 1610.7) scale(0.925 1)" font-size="41" fill="#006100" text-anchor="middle">5.1%</text>
<text transform="translate(3066.5 1610.7) scale(0.925 1)" font-size="41" fill="#9C0006" text-anchor="middle">-5.0%</text>
<text transform="translate(3205.5 1610.7) scale(0.925 1)" font-size="41" fill="#9C0006" text-anchor="middle">-0.4%</text>
<text transform="translate(3350.5 1610.7) scale(0.925 1)" font-size="41" fill="#006100" text-anchor="middle">1.9%</text>
<text x="1836.8" y="1666.2" font-size="41" fill="#000" textLength="308.2" lengthAdjust="spacingAndGlyphs">1-3 Year Treasury</text>
<text transform="translate(2243.6 1666.2) scale(0.925 1)" font-size="41" fill="#000">SHY</text>
<text transform="translate(2445.5 1666.2) scale(0.925 1)" font-size="41" fill="#000" text-anchor="middle">1.9</text>
<text transform="translate(2623.7 1666.2) scale(0.925 1)" font-size="41" fill="#000" text-anchor="middle">5.0%</text>
<text transform="translate(2789.5 1666.2) scale(0.925 1)" font-size="41" fill="#006100" text-anchor="middle">1.4%</text>
<text transform="translate(2927.5 1666.2) scale(0.925 1)" font-size="41" fill="#006100" text-anchor="middle">1.8%</text>
<text transform="translate(3066.5 1666.2) scale(0.925 1)" font-size="41" fill="#9C0006" text-anchor="middle">-1.1%</text>
<text transform="translate(3205.5 1666.2) scale(0.925 1)" font-size="41" fill="#006100" text-anchor="middle">0.9%</text>
<text transform="translate(3350.5 1666.2) scale(0.925 1)" font-size="41" fill="#006100" text-anchor="middle">0.7%</text>
<text x="1836.8" y="1721.7" font-size="41" fill="#000" textLength="366.7" lengthAdjust="spacingAndGlyphs">US Investment Grade</text>
<text transform="translate(2243.6 1721.7) scale(0.925 1)" font-size="41" fill="#000">LQD</text>
<text transform="translate(2445.5 1721.7) scale(0.925 1)" font-size="41" fill="#000" text-anchor="middle">8.5</text>
<text transform="translate(2623.7 1721.7) scale(0.925 1)" font-size="41" fill="#000" text-anchor="middle">5.7%</text>
<text transform="translate(2789.5 1721.7) scale(0.925 1)" font-size="41" fill="#006100" text-anchor="middle">0.5%</text>
<text transform="translate(2927.5 1721.7) scale(0.925 1)" font-size="41" fill="#006100" text-anchor="middle">0.7%</text>
<text transform="translate(3066.5 1721.7) scale(0.925 1)" font-size="41" fill="#9C0006" text-anchor="middle">-6.0%</text>
<text transform="translate(3205.5 1721.7) scale(0.925 1)" font-size="41" fill="#006100" text-anchor="middle">1.0%</text>
<text transform="translate(3350.5 1721.7) scale(0.925 1)" font-size="41" fill="#006100" text-anchor="middle">2.4%</text>
<text x="1836.8" y="1777.2" font-size="41" fill="#000" textLength="159.3" lengthAdjust="spacingAndGlyphs">Municipal</text>
<text transform="translate(2243.6 1777.2) scale(0.925 1)" font-size="41" fill="#000">MUB</text>
<text transform="translate(2445.5 1777.2) scale(0.925 1)" font-size="41" fill="#000" text-anchor="middle">6.0</text>
<text transform="translate(2623.7 1777.2) scale(0.925 1)" font-size="41" fill="#000" text-anchor="middle">3.6%</text>
<text transform="translate(2789.5 1777.2) scale(0.925 1)" font-size="41" fill="#006100" text-anchor="middle">0.2%</text>
<text transform="translate(2927.5 1777.2) scale(0.925 1)" font-size="41" fill="#006100" text-anchor="middle">2.3%</text>
<text transform="translate(3066.5 1777.2) scale(0.925 1)" font-size="41" fill="#9C0006" text-anchor="middle">-1.5%</text>
<text transform="translate(3205.5 1777.2) scale(0.925 1)" font-size="41" fill="#006100" text-anchor="middle">1.5%</text>
<text transform="translate(3350.5 1777.2) scale(0.925 1)" font-size="41" fill="#006100" text-anchor="middle">2.4%</text>
<text x="1836.8" y="1832.7" font-size="41" fill="#000" textLength="380.4" lengthAdjust="spacingAndGlyphs">Commercial Mortgage</text>
<text transform="translate(2243.6 1832.7) scale(0.925 1)" font-size="41" fill="#000">CMBS</text>
<text transform="translate(2445.5 1832.7) scale(0.925 1)" font-size="41" fill="#000" text-anchor="middle">4.3</text>
<text transform="translate(2623.7 1832.7) scale(0.925 1)" font-size="41" fill="#000" text-anchor="middle">4.1%</text>
<text transform="translate(2789.5 1832.7) scale(0.925 1)" font-size="41" fill="#006100" text-anchor="middle">0.1%</text>
<text transform="translate(2927.5 1832.7) scale(0.925 1)" font-size="41" fill="#9C0006" text-anchor="middle">-0.4%</text>
<text transform="translate(3066.5 1832.7) scale(0.925 1)" font-size="41" fill="#9C0006" text-anchor="middle">-4.2%</text>
<text transform="translate(3205.5 1832.7) scale(0.925 1)" font-size="41" fill="#006100" text-anchor="middle">0.8%</text>
<text transform="translate(3350.5 1832.7) scale(0.925 1)" font-size="41" fill="#006100" text-anchor="middle">1.2%</text>
<text x="1836.8" y="1888.2" font-size="41" fill="#000" textLength="308.2" lengthAdjust="spacingAndGlyphs">3-7 Year Treasury</text>
<text transform="translate(2243.6 1888.2) scale(0.925 1)" font-size="41" fill="#000">IEI</text>
<text transform="translate(2445.5 1888.2) scale(0.925 1)" font-size="41" fill="#000" text-anchor="middle">4.4</text>
<text transform="translate(2623.7 1888.2) scale(0.925 1)" font-size="41" fill="#000" text-anchor="middle">4.4%</text>
<text transform="translate(2789.5 1888.2) scale(0.925 1)" font-size="41" fill="#9C0006" text-anchor="middle">-0.2%</text>
<text transform="translate(2927.5 1888.2) scale(0.925 1)" font-size="41" fill="#9C0006" text-anchor="middle">-0.3%</text>
<text transform="translate(3066.5 1888.2) scale(0.925 1)" font-size="41" fill="#9C0006" text-anchor="middle">-4.2%</text>
<text transform="translate(3205.5 1888.2) scale(0.925 1)" font-size="41" fill="#006100" text-anchor="middle">0.5%</text>
<text transform="translate(3350.5 1888.2) scale(0.925 1)" font-size="41" fill="#006100" text-anchor="middle">0.8%</text>
<text x="1836.8" y="1943.7" font-size="41" fill="#000" textLength="305.6" lengthAdjust="spacingAndGlyphs">Inflation Protected</text>
<text transform="translate(2243.6 1943.7) scale(0.925 1)" font-size="41" fill="#000">TIP</text>
<text transform="translate(2445.5 1943.7) scale(0.925 1)" font-size="41" fill="#000" text-anchor="middle">6.8</text>
<text transform="translate(2623.7 1943.7) scale(0.925 1)" font-size="41" fill="#000" text-anchor="middle">5.4%</text>
<text transform="translate(2789.5 1943.7) scale(0.925 1)" font-size="41" fill="#9C0006" text-anchor="middle">-0.2%</text>
<text transform="translate(2927.5 1943.7) scale(0.925 1)" font-size="41" fill="#9C0006" text-anchor="middle">-2.3%</text>
<text transform="translate(3066.5 1943.7) scale(0.925 1)" font-size="41" fill="#9C0006" text-anchor="middle">-1.9%</text>
<text transform="translate(3205.5 1943.7) scale(0.925 1)" font-size="41" fill="#006100" text-anchor="middle">2.0%</text>
<text transform="translate(3350.5 1943.7) scale(0.925 1)" font-size="41" fill="#006100" text-anchor="middle">1.7%</text>
<text x="1836.8" y="1999.2" font-size="41" fill="#000" textLength="238.6" lengthAdjust="spacingAndGlyphs">US Aggregate</text>
<text transform="translate(2243.6 1999.2) scale(0.925 1)" font-size="41" fill="#000">AGG</text>
<text transform="translate(2445.5 1999.2) scale(0.925 1)" font-size="41" fill="#000" text-anchor="middle">6.3</text>
<text transform="translate(2623.7 1999.2) scale(0.925 1)" font-size="41" fill="#000" text-anchor="middle">4.5%</text>
<text transform="translate(2789.5 1999.2) scale(0.925 1)" font-size="41" fill="#9C0006" text-anchor="middle">-0.4%</text>
<text transform="translate(2927.5 1999.2) scale(0.925 1)" font-size="41" fill="#9C0006" text-anchor="middle">-1.1%</text>
<text transform="translate(3066.5 1999.2) scale(0.925 1)" font-size="41" fill="#9C0006" text-anchor="middle">-5.1%</text>
<text transform="translate(3205.5 1999.2) scale(0.925 1)" font-size="41" fill="#006100" text-anchor="middle">0.2%</text>
<text transform="translate(3350.5 1999.2) scale(0.925 1)" font-size="41" fill="#006100" text-anchor="middle">1.2%</text>
<text x="1836.8" y="2054.7" font-size="41" fill="#000" textLength="298.2" lengthAdjust="spacingAndGlyphs">Mortgage Backed</text>
<text transform="translate(2243.6 2054.7) scale(0.925 1)" font-size="41" fill="#000">MBB</text>
<text transform="translate(2445.5 2054.7) scale(0.925 1)" font-size="41" fill="#000" text-anchor="middle">6.1</text>
<text transform="translate(2623.7 2054.7) scale(0.925 1)" font-size="41" fill="#000" text-anchor="middle">3.2%</text>
<text transform="translate(2789.5 2054.7) scale(0.925 1)" font-size="41" fill="#9C0006" text-anchor="middle">-1.3%</text>
<text transform="translate(2927.5 2054.7) scale(0.925 1)" font-size="41" fill="#9C0006" text-anchor="middle">-1.7%</text>
<text transform="translate(3066.5 2054.7) scale(0.925 1)" font-size="41" fill="#9C0006" text-anchor="middle">-4.8%</text>
<text transform="translate(3205.5 2054.7) scale(0.925 1)" font-size="41" fill="#9C0006" text-anchor="middle">-0.6%</text>
<text transform="translate(3350.5 2054.7) scale(0.925 1)" font-size="41" fill="#006100" text-anchor="middle">0.7%</text>
<text x="1836.8" y="2110.2" font-size="41" fill="#000" textLength="329.7" lengthAdjust="spacingAndGlyphs">7-10 Year Treasury</text>
<text transform="translate(2243.6 2110.2) scale(0.925 1)" font-size="41" fill="#000">IEF</text>
<text transform="translate(2445.5 2110.2) scale(0.925 1)" font-size="41" fill="#000" text-anchor="middle">7.4</text>
<text transform="translate(2623.7 2110.2) scale(0.925 1)" font-size="41" fill="#000" text-anchor="middle">4.2%</text>
<text transform="translate(2789.5 2110.2) scale(0.925 1)" font-size="41" fill="#9C0006" text-anchor="middle">-2.1%</text>
<text transform="translate(2927.5 2110.2) scale(0.925 1)" font-size="41" fill="#9C0006" text-anchor="middle">-3.7%</text>
<text transform="translate(3066.5 2110.2) scale(0.925 1)" font-size="41" fill="#9C0006" text-anchor="middle">-7.5%</text>
<text transform="translate(3205.5 2110.2) scale(0.925 1)" font-size="41" fill="#9C0006" text-anchor="middle">-0.1%</text>
<text transform="translate(3350.5 2110.2) scale(0.925 1)" font-size="41" fill="#006100" text-anchor="middle">0.9%</text>
<text x="1836.8" y="2165.7" font-size="41" fill="#000" textLength="319.3" lengthAdjust="spacingAndGlyphs">20+ Year Treasury</text>
<text transform="translate(2243.6 2165.7) scale(0.925 1)" font-size="41" fill="#000">TLT</text>
<text transform="translate(2445.5 2165.7) scale(0.925 1)" font-size="41" fill="#000" text-anchor="middle">17.2</text>
<text transform="translate(2623.7 2165.7) scale(0.925 1)" font-size="41" fill="#000" text-anchor="middle">4.4%</text>
<text transform="translate(2789.5 2165.7) scale(0.925 1)" font-size="41" fill="#9C0006" text-anchor="middle">-6.9%</text>
<text transform="translate(2927.5 2165.7) scale(0.925 1)" font-size="41" fill="#9C0006" text-anchor="middle">-13.4%</text>
<text transform="translate(3066.5 2165.7) scale(0.925 1)" font-size="41" fill="#9C0006" text-anchor="middle">-16.2%</text>
<text transform="translate(3205.5 2165.7) scale(0.925 1)" font-size="41" fill="#9C0006" text-anchor="middle">-2.9%</text>
<text transform="translate(3350.5 2165.7) scale(0.925 1)" font-size="41" fill="#006100" text-anchor="middle">0.9%</text>
<text x="1836.8" y="2221.2" font-size="41" fill="#000" textLength="175.6" lengthAdjust="spacingAndGlyphs">25+ Zeros</text>
<text transform="translate(2243.6 2221.2) scale(0.925 1)" font-size="41" fill="#000">ZROZ</text>
<text transform="translate(2445.5 2221.2) scale(0.925 1)" font-size="41" fill="#000" text-anchor="middle">26.2</text>
<text transform="translate(2623.7 2221.2) scale(0.925 1)" font-size="41" fill="#000" text-anchor="middle">4.0%</text>
<text transform="translate(2789.5 2221.2) scale(0.925 1)" font-size="41" fill="#9C0006" text-anchor="middle">-12.1%</text>
<text transform="translate(2927.5 2221.2) scale(0.925 1)" font-size="41" fill="#9C0006" text-anchor="middle">-22.3%</text>
<text transform="translate(3066.5 2221.2) scale(0.925 1)" font-size="41" fill="#9C0006" text-anchor="middle">-22.6%</text>
<text transform="translate(3205.5 2221.2) scale(0.925 1)" font-size="41" fill="#9C0006" text-anchor="middle">-5.0%</text>
<text transform="translate(3350.5 2221.2) scale(0.925 1)" font-size="41" fill="#006100" text-anchor="middle">1.2%</text>
<rect x="1830.0" y="866.0" width="3.0" height="1370.0" fill="#000"/>
<rect x="3422.0" y="866.0" width="3.0" height="1370.0" fill="#000"/>
<rect x="1830.0" y="2232.5" width="1595.0" height="3.5" fill="#000"/>
<rect x="1830.0" y="953.5" width="1595.0" height="3.5" fill="#000"/>
<rect x="1830.0" y="1014.5" width="1595.0" height="3.5" fill="#000"/>
<rect x="1830.0" y="1123.0" width="1595.0" height="3.5" fill="#000"/>
<rect x="2718.0" y="957.0" width="3.5" height="1275.5" fill="#000"/>
<text x="2191.0" y="925.0" font-size="44" fill="#000" font-weight="bold" textLength="874.0" lengthAdjust="spacingAndGlyphs">Bond ETFs: Durations, Yields and Returns</text>
<text x="1959.5" y="1002.6" font-size="40" fill="#000" font-weight="bold" font-style="italic" textLength="630.0" lengthAdjust="spacingAndGlyphs">Data Source: YCharts as of 9/21/23</text>
<text x="2795.1" y="1002.6" font-size="40" fill="#000" font-weight="bold" textLength="556.3" lengthAdjust="spacingAndGlyphs">Total Returns (&gt;1 Year = Ann.)</text>
<text transform="translate(1838.1 1111.0) scale(0.925 1)" font-size="41" fill="#000">Category</text>
<text transform="translate(2243.6 1085.8) scale(0.925 1)" font-size="41" fill="#000">Ticker</text>
<text x="2372.6" y="1056.5" font-size="41" fill="#000" textLength="141.9" lengthAdjust="spacingAndGlyphs">Duration</text>
<text x="2375.2" y="1109.2" font-size="41" fill="#000" textLength="120.5" lengthAdjust="spacingAndGlyphs">(Years)</text>
<text x="2565.3" y="1056.5" font-size="41" fill="#000" textLength="120.5" lengthAdjust="spacingAndGlyphs">30-Day</text>
<text x="2537.1" y="1109.2" font-size="41" fill="#000" textLength="173.2" lengthAdjust="spacingAndGlyphs">SEC Yield</text>
<text x="2747.5" y="1108.4" font-size="41" fill="#000" textLength="82.5" lengthAdjust="spacingAndGlyphs">2023</text>
<text x="2875.0" y="1111.7" font-size="41" fill="#000" textLength="110.7" lengthAdjust="spacingAndGlyphs">1-Year</text>
<text x="3013.2" y="1111.7" font-size="41" fill="#000" textLength="110.7" lengthAdjust="spacingAndGlyphs">3-Year</text>
<text x="3152.1" y="1111.7" font-size="41" fill="#000" textLength="112.1" lengthAdjust="spacingAndGlyphs">5-Year</text>
<text x="3284.3" y="1111.7" font-size="41" fill="#000" textLength="131.5" lengthAdjust="spacingAndGlyphs">10-Year</text>
</svg>
</body></html>
